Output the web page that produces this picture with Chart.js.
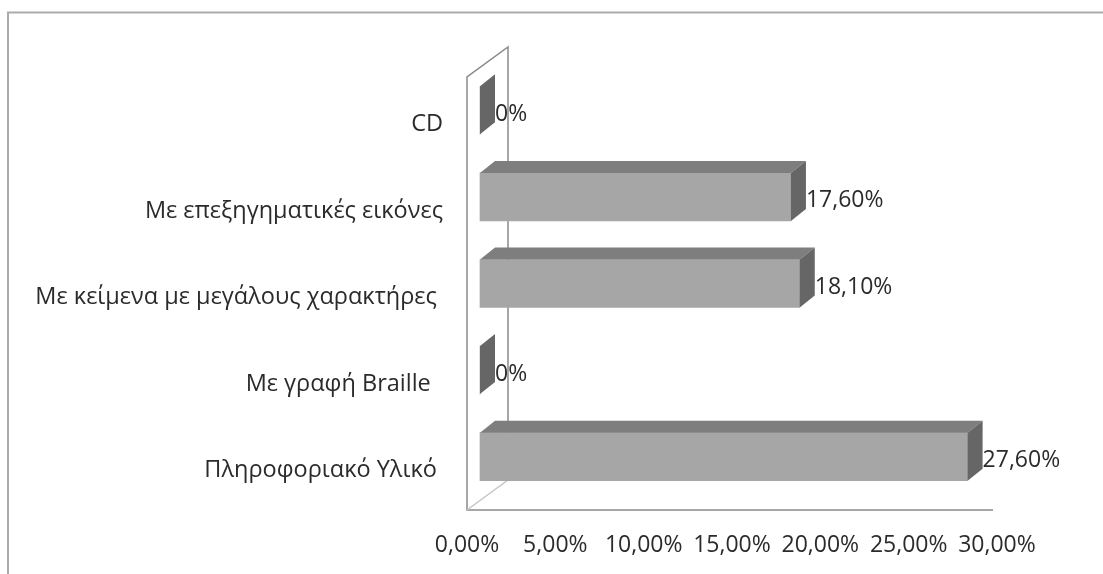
<!DOCTYPE html>
<html>
<head>
<meta charset="utf-8">
<style>
html, body { margin: 0; padding: 0; background: #fff; overflow: hidden; }
#wrap { width: 1103px; height: 574px; }
#chart { filter: blur(0.5px); }
</style>
<script src="https://cdn.jsdelivr.net/npm/chart.js@4"></script>
</head>
<body>
<div id="wrap"><canvas id="chart"></canvas></div>
<script>
const categories = ['CD', 'Με επεξηγηματικές εικόνες', 'Με κείμενα με μεγάλους χαρακτήρες ', 'Με γραφή Braille  ', 'Πληροφοριακό Υλικό '];
const values = [0, 17.6, 18.1, 0, 27.6];
const valueLabels = ['0%', '17,60%', '18,10%', '0%', '27,60%'];
const tickLabels = ['0,00%', '5,00%', '10,00%', '15,00%', '20,00%', '25,00%', '30,00%'];

const fontFamily = '"Open Sans", sans-serif';
const textColor = '#2b2b2b';

// bars sit inside the fake 3D box, so they are moved off the axis plane
const barShiftX = 13;
const barShiftY = -10;
const depthX = 15;
const depthY = 12;
const wallX = 41;
const wallY = 30;

const box3d = {
    id: 'box3d',
    beforeDraw(chart) {
        const ctx = chart.ctx;
        ctx.save();
        ctx.strokeStyle = '#ababab';
        ctx.lineWidth = 2;
        ctx.beginPath();
        ctx.moveTo(8, 574);
        ctx.lineTo(8, 12.5);
        ctx.lineTo(1103, 12.5);
        ctx.stroke();
        ctx.restore();
    },
    beforeDatasetsDraw(chart) {
        const ctx = chart.ctx;
        const { left, right, top, bottom } = chart.chartArea;
        ctx.save();
        ctx.strokeStyle = '#8a8a8a';
        ctx.lineWidth = 1.5;
        ctx.beginPath();
        ctx.moveTo(left + wallX, bottom - wallY);
        ctx.lineTo(left + wallX, top - wallY);
        ctx.lineTo(left, top);
        ctx.lineTo(left, bottom);
        ctx.lineTo(right - 4, bottom);
        ctx.stroke();
        ctx.strokeStyle = '#c4c4c4';
        ctx.beginPath();
        ctx.moveTo(left, bottom);
        ctx.lineTo(left + wallX, bottom - wallY);
        ctx.stroke();
        ctx.restore();
        ctx.save();
        ctx.translate(barShiftX, barShiftY);
    },
    afterDatasetsDraw(chart) {
        const ctx = chart.ctx;
        const bars = chart.getDatasetMeta(0).data;
        bars.forEach((bar, i) => {
            const top = bar.y - bar.height / 2;
            const bottom = bar.y + bar.height / 2;
            ctx.fillStyle = '#7e7e7e';
            ctx.beginPath();
            ctx.moveTo(bar.base, top);
            ctx.lineTo(bar.base + depthX, top - depthY);
            ctx.lineTo(bar.x + depthX, top - depthY);
            ctx.lineTo(bar.x, top);
            ctx.closePath();
            ctx.fill();
            ctx.fillStyle = '#666666';
            ctx.beginPath();
            ctx.moveTo(bar.x, top);
            ctx.lineTo(bar.x + depthX, top - depthY);
            ctx.lineTo(bar.x + depthX, bottom - depthY);
            ctx.lineTo(bar.x, bottom);
            ctx.closePath();
            ctx.fill();
            ctx.fillStyle = textColor;
            ctx.font = '23px ' + fontFamily;
            ctx.textAlign = 'left';
            ctx.textBaseline = 'middle';
            ctx.fillText(valueLabels[i], bar.x + 15, bar.y + 4);
        });
        ctx.restore();
    }
};

new Chart(document.getElementById('chart'), {
    type: 'bar',
    data: {
        labels: categories,
        datasets: [{
            data: values,
            backgroundColor: '#a6a6a6',
            borderWidth: 0,
            barThickness: 48,
            clip: false
        }]
    },
    options: {
        indexAxis: 'y',
        responsive: true,
        maintainAspectRatio: false,
        animation: false,
        layout: { padding: { top: 77, right: 106, left: 0, bottom: 0 } },
        plugins: { legend: { display: false }, tooltip: { enabled: false } },
        scales: {
            x: {
                min: 0,
                max: 30,
                afterFit(scale) { scale.height = 64; },
                grid: { display: false },
                border: { display: false },
                ticks: {
                    stepSize: 5,
                    autoSkip: false,
                    maxRotation: 0,
                    padding: 14,
                    color: textColor,
                    font: { family: fontFamily, size: 23 },
                    callback: (value, index) => tickLabels[index]
                }
            },
            y: {
                afterFit(scale) { scale.width = 467; },
                grid: { display: false },
                border: { display: false },
                ticks: {
                    autoSkip: false,
                    padding: 16,
                    labelOffset: 4,
                    color: textColor,
                    font: { family: fontFamily, size: 23.5 }
                }
            }
        }
    },
    plugins: [box3d]
});
</script>
</body>
</html>
